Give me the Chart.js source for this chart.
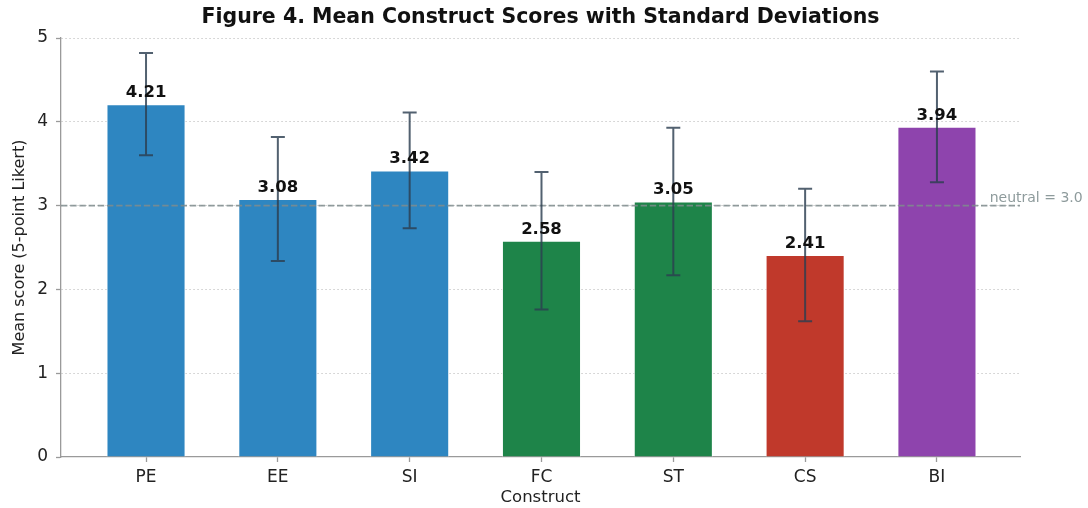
<!DOCTYPE html>
<html>
<head>
<meta charset="utf-8">
<script src="https://cdn.jsdelivr.net/npm/chart.js@4/dist/chart.umd.min.js"></script>
<style>
  html, body { margin: 0; padding: 0; background: #ffffff; }
  #wrap { width: 1088px; height: 508px; }
</style>
</head>
<body>
<div id="wrap"><canvas id="chart" width="1088" height="508"></canvas></div>
<script>
// Construct means and standard deviations on a 5-point Likert scale
const constructs = ['PE', 'EE', 'SI', 'FC', 'ST', 'CS', 'BI'];
const means = [4.21, 3.08, 3.42, 2.58, 3.05, 2.41, 3.94];
const stdDevs = [0.61, 0.74, 0.69, 0.82, 0.88, 0.79, 0.66];
const barColors = ['#2E86C1', '#2E86C1', '#2E86C1', '#1E8449', '#1E8449', '#C0392B', '#8E44AD'];
const yTicks = [0, 1, 2, 3, 4, 5];
const neutralLevel = 3.0;

const FONT = '"DejaVu Sans", "Liberation Sans", sans-serif';
const SPINE = '#9a9a9a';

// Error bars, the neutral reference line and the value labels
const overlay = {
  id: 'overlay',
  afterDatasetsDraw(chart) {
    const { ctx, chartArea } = chart;
    const xs = chart.scales.x, ys = chart.scales.y;

    // dashed neutral line across the plot
    const yn = ys.getPixelForValue(neutralLevel);
    ctx.save();
    ctx.strokeStyle = 'rgba(127,140,141,0.85)';
    ctx.lineWidth = 1.6;
    ctx.setLineDash([6.4, 2.8]);
    ctx.beginPath();
    ctx.moveTo(chartArea.left, yn);
    ctx.lineTo(chartArea.right, yn);
    ctx.stroke();
    ctx.restore();

    ctx.save();
    ctx.font = '14px ' + FONT;
    ctx.fillStyle = '#8e9b9c';
    ctx.textAlign = 'left';
    ctx.textBaseline = 'alphabetic';
    ctx.fillText('neutral = ' + neutralLevel.toFixed(1), xs.getPixelForValue(6.4), yn - 4);
    ctx.restore();

    // standard deviation whiskers
    ctx.save();
    ctx.strokeStyle = 'rgba(44,62,80,0.82)';
    ctx.lineWidth = 2;
    const cap = 7;
    means.forEach((m, i) => {
      const x = xs.getPixelForValue(i);
      const yTop = ys.getPixelForValue(m + stdDevs[i]);
      const yBot = ys.getPixelForValue(m - stdDevs[i]);
      ctx.beginPath();
      ctx.moveTo(x, yTop); ctx.lineTo(x, yBot);
      ctx.moveTo(x - cap, yTop); ctx.lineTo(x + cap, yTop);
      ctx.moveTo(x - cap, yBot); ctx.lineTo(x + cap, yBot);
      ctx.stroke();
    });
    ctx.restore();

    // mean value above each bar
    ctx.save();
    ctx.font = 'bold 16.5px ' + FONT;
    ctx.fillStyle = '#111111';
    ctx.textAlign = 'center';
    ctx.textBaseline = 'alphabetic';
    means.forEach((m, i) => {
      ctx.fillText(m.toFixed(2), xs.getPixelForValue(i), ys.getPixelForValue(m) - 7);
    });
    ctx.restore();
  }
};

const points = means.map((m, i) => ({ x: i, y: m }));

new Chart(document.getElementById('chart'), {
  type: 'bar',
  data: {
    datasets: [{
      data: points,
      backgroundColor: barColors,
      borderColor: 'rgba(255,255,255,0.9)',
      borderWidth: 1,
      categoryPercentage: 1.0,
      barPercentage: 0.6
    }]
  },
  options: {
    responsive: false,
    devicePixelRatio: 1,
    animation: false,
    layout: { padding: { left: 0, right: 68, top: 0, bottom: 0 } },
    plugins: {
      legend: { display: false },
      tooltip: { enabled: false },
      title: {
        display: true,
        fullSize: false,
        text: 'Figure 4. Mean Construct Scores with Standard Deviations',
        color: '#111111',
        font: { family: FONT, size: 20.5, weight: 'bold', lineHeight: 1.2 },
        padding: { top: 5, bottom: 8.4 }
      }
    },
    scales: {
      x: {
        type: 'linear',
        offset: false,
        min: -0.645,
        max: 6.63,
        afterBuildTicks(scale) {
          scale.ticks = constructs.map((_, i) => ({ value: i }));
        },
        afterFit(scale) { scale.height = 51; },
        ticks: {
          color: '#222222',
          font: { family: FONT, size: 17 },
          padding: 5,
          autoSkip: false,
          maxRotation: 0,
          callback: (v) => constructs[v]
        },
        grid: {
          display: true,
          offset: false,
          drawOnChartArea: false,
          drawTicks: true,
          tickLength: 5,
          tickColor: SPINE,
          tickWidth: 1.3
        },
        border: { display: true, color: SPINE, width: 1.3 },
        title: {
          display: true,
          text: 'Construct',
          color: '#222222',
          font: { family: FONT, size: 16.5, lineHeight: 1.2 },
          padding: { top: 0, bottom: 0 }
        }
      },
      y: {
        min: 0,
        max: 5,
        afterBuildTicks(scale) {
          scale.ticks = yTicks.map(v => ({ value: v }));
        },
        afterFit(scale) { scale.width = 61; },
        ticks: {
          color: '#222222',
          font: { family: FONT, size: 17 },
          padding: 8
        },
        grid: {
          color: (c) => (c.tick && c.tick.value === 0 ? 'rgba(0,0,0,0)' : '#cccccc'),
          lineWidth: 1,
          drawTicks: true,
          tickLength: 5,
          tickColor: SPINE,
          tickWidth: 1.3
        },
        border: { display: true, color: SPINE, width: 1.3, dash: [1.5, 2.5] },
        title: {
          display: true,
          text: 'Mean score (5-point Likert)',
          color: '#222222',
          font: { family: FONT, size: 16, lineHeight: 1.2 },
          padding: { top: 10, bottom: 0 }
        }
      }
    }
  },
  plugins: [overlay]
});
</script>
</body>
</html>
